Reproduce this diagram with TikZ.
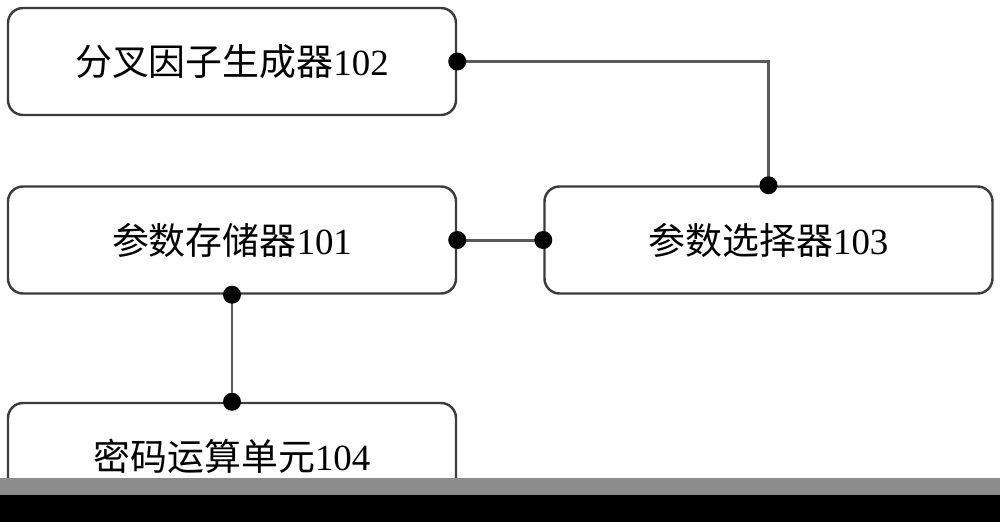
\documentclass[tikz,border=0pt]{standalone}
\usepackage{fontspec}
\setmainfont{Liberation Serif}
\newfontfamily\cjk{Noto Sans CJK SC}
\usepackage{tikz}
\usetikzlibrary{arrows,shapes,positioning}
\usepackage{xcolor}
\definecolor{boxline}{RGB}{60,60,60}
\definecolor{wireline}{RGB}{90,90,90}
\tikzstyle{unit} = [rectangle, rounded corners=0.3cm, minimum width=8.96cm, minimum height=2.14cm, text centered, draw=boxline, line width=1.4pt, font=\fontsize{21}{25}\selectfont]
\tikzstyle{wire} = [line width=1.7pt, color=wireline]
\tikzstyle{dot} = [circle, fill=black, inner sep=0pt, minimum size=0.36cm]

\begin{document}
\begin{tikzpicture}
\useasboundingbox (0,0) rectangle (20,-10.44);
% Units
\node (store) [unit] at (4.64,-4.8) {{\cjk 参数存储器}101};
\node (fork) [unit, above of=store, node distance=3.57cm] {{\cjk 分叉因子生成器}102};
\node (select) [unit, right of=store, node distance=10.73cm] {{\cjk 参数选择器}103};
\node (crypto) [unit, below of=store, node distance=4.33cm] {{\cjk 密码运算单元}104};

% Connections
\draw[wire] (fork.east) -| (select.north);
\draw[wire] (store.east) -- (select.west);
\draw[wire] (store.south) -- (crypto.north);
\node[dot] at (fork.east) {};
\node[dot] at (select.north) {};
\node[dot] at (store.east) {};
\node[dot] at (select.west) {};
\node[dot] at (store.south) {};
\node[dot] at (crypto.north) {};

% Cut-off band at the bottom
\fill[black!45] (0,-9.56) rectangle (20,-9.9);
\fill[black] (0,-9.9) rectangle (20,-10.44);
\end{tikzpicture}
\end{document}
